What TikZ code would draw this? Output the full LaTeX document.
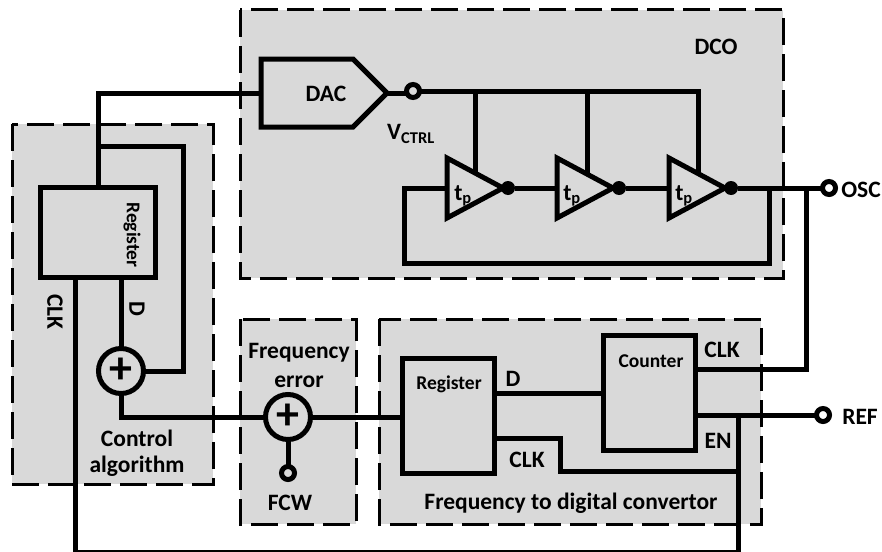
\documentclass[tikz,border=0pt]{standalone}
\usepackage{fontspec}
\setmainfont{Carlito}
\begin{document}
\begin{tikzpicture}[x=1pt,y=-1pt,
  panel/.style={draw=black,fill=panelgrey,line width=3pt,dash pattern=on 27pt off 9pt},
  wire/.style={draw=black,line width=5pt,line join=miter},
  blockbox/.style={draw=black,fill=panelgrey,line width=5pt,rectangle,inner sep=0pt,outer sep=0pt},
  summer/.style={draw=black,fill=panelgrey,line width=5pt,circle,minimum size=45pt,inner sep=0pt,outer sep=0pt},
  terminal/.style={draw=black,line width=5pt,circle,minimum size=13pt,inner sep=0pt,outer sep=0pt},
  dotnode/.style={fill=black,circle,minimum size=14pt,inner sep=0pt,outer sep=0pt},
  lab/.style={font=\bfseries\fontsize{23.5}{26}\selectfont,inner sep=0pt,text=black},
  smalllab/.style={font=\bfseries\fontsize{19.5}{22}\selectfont,inner sep=0pt,text=black},
  pluslab/.style={font=\bfseries\fontsize{46}{46}\selectfont,inner sep=0pt}]
\definecolor{panelgrey}{HTML}{D9D9D9}
\useasboundingbox (0,0) rectangle (882,551);
% panels
\path[panel] (12,124) rectangle (213,484);
\path[panel] (240,10) rectangle (783,278);
\path[panel] (240,319) rectangle (356,524);
\path[panel] (379,319) rectangle (761,524);
% coordinates
\coordinate (dacw) at (261,59);
\coordinate (dacn) at (353,59);
\coordinate (dactip) at (387,93);
\coordinate (dacs) at (353,127);
\coordinate (dacsw) at (261,127);
\coordinate (dacin) at (261,93);
\coordinate (t1n) at (447,158); \coordinate (t1s) at (447,218); \coordinate (t1tip) at (503,188); \coordinate (t1in) at (447,188);
\coordinate (t2n) at (557,158); \coordinate (t2s) at (557,218); \coordinate (t2tip) at (613,188); \coordinate (t2in) at (557,188);
\coordinate (t3n) at (669,158); \coordinate (t3s) at (669,218); \coordinate (t3tip) at (725,188); \coordinate (t3in) at (669,188);
\coordinate (t1top) at (475,173); \coordinate (t2top) at (587,173); \coordinate (t3top) at (698,173);
\coordinate (busend) at (698,91);
\coordinate (clkcorner) at (75,552);
\coordinate (clkright) at (738,552);
% nodes
\node[blockbox,minimum width=115pt,minimum height=90pt] (reg1) at (97.5,232) {};
\node[blockbox,minimum width=92pt,minimum height=115pt] (reg2) at (448,415.5) {};
\node[blockbox,minimum width=92pt,minimum height=115pt] (cnt) at (649,392.5) {};
\node[summer] (sum1) at (121,371) {};
\node[summer] (sum2) at (288,417) {};
\node[terminal] (vctrl) at (413,91) {};
\node[terminal] (oscT) at (829,188) {};
\node[terminal] (refT) at (823,415) {};
\node[terminal] (fcwT) at (288,473) {};
\node[dotnode] (d1) at (508,188) {};
\node[dotnode] (d2) at (619,188) {};
\node[dotnode] (d3) at (731,188) {};
% wires
\draw[wire] (reg1.north -| 98,0) -- (98,93) -- (dacin);
\draw[wire] (98,146) -| (183,371) -- (sum1.east);
\draw[wire] (sum1.north) -- (reg1.south -| sum1.north);
\draw[wire] (sum1.south) |- (sum2.west);
\draw[wire] (sum2.east) -- (reg2.west |- sum2.east);
\draw[wire] (sum2.south) -- (fcwT.north);
\draw[wire] (dactip) -- (vctrl.west |- dactip);
\draw[wire] (vctrl.east) -- (busend) -- (t3top);
\draw[wire] (t1top) -- (t1top |- vctrl);
\draw[wire] (t2top) -- (t2top |- vctrl);
\draw[wire] (d1) -- (t2in);
\draw[wire] (d2) -- (t3in);
\draw[wire] (d3) -- (oscT.west);
\draw[wire] (769,188) |- (404,263) |- (t1in);
\draw[wire] (806,188) |- (cnt.east |- 0,369);
\draw[wire] (reg2.east |- 0,393) -- (cnt.west |- 0,393);
\draw[wire] (reg2.east |- 0,438) -| (560,471) -- (738,471);
\draw[wire] (cnt.east |- refT) -- (refT.west);
\draw[wire] (738,415) -- (clkright) -- (clkcorner) -- (reg1.south -| clkcorner);
% DAC and buffers
\draw[wire] (dacw) -- (dacn) -- (dactip) -- (dacs) -- (dacsw) -- cycle;
\draw[wire] (t1n) -- (t1tip) -- (t1s) -- cycle;
\draw[wire] (t2n) -- (t2tip) -- (t2s) -- cycle;
\draw[wire] (t3n) -- (t3tip) -- (t3s) -- cycle;
% labels
\node[lab] (dacL) at (326,94) {DAC};
\node[lab] (dcoL) at (716,47) {DCO};
\node[lab] (vL) at (411,134) {V\textsubscript{CTRL}};
\node[lab] (tp1) at (463,196) {t\textsubscript{p}};
\node[lab] (tp2) at (572,196) {t\textsubscript{p}};
\node[lab] (tp3) at (684,196) {t\textsubscript{p}};
\node[lab] (oscL) at (861,190) {OSC};
\node[lab] (refL) at (860,417) {REF};
\node[smalllab,rotate=-90] (r1L) at (132,235) {Register};
\node[smalllab] (r2L) at (449,384) {Register};
\node[smalllab] (cL) at (651,361) {Counter};
\node[lab,rotate=-90] (clkA) at (55,312) {CLK};
\node[lab,rotate=-90] (dA) at (137,309) {D};
\node[lab] (dB) at (513,379) {D};
\node[lab] (clkB) at (527,460) {CLK};
\node[lab] (clkC) at (722,350) {CLK};
\node[lab] (enL) at (718,441) {EN};
\node[lab] (fqL) at (299,353) {Frequency};
\node[lab] (erL) at (299,382) {error};
\node[lab] (caL) at (137,438) {Control};
\node[lab] (alL) at (137,466) {algorithm};
\node[lab] (fcwL) at (290,503) {FCW};
\node[lab] (fdL) at (571,503) {Frequency to digital convertor};
\node[pluslab] at (sum1) {+};
\node[pluslab] at (sum2) {+};
\end{tikzpicture}
\end{document}
